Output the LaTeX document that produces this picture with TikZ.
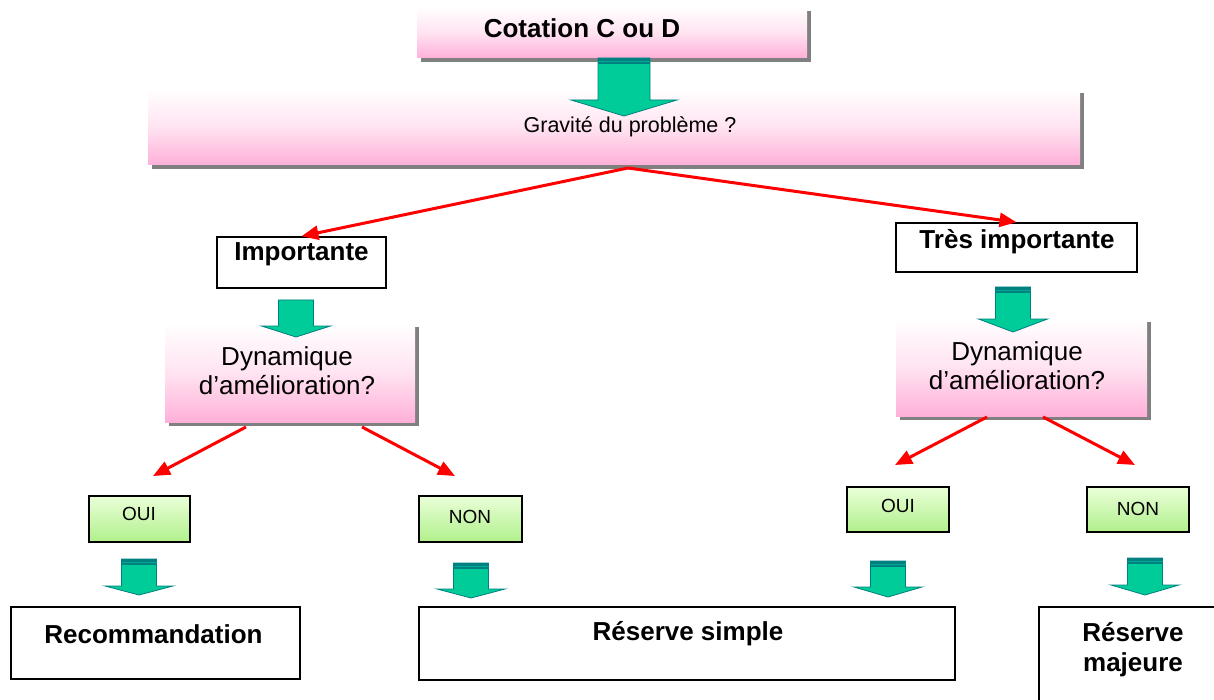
\documentclass[tikz,border=0pt]{standalone}
\usepackage{fontspec}
\setmainfont{Liberation Sans}
\usetikzlibrary{arrows.meta,shadows}
\definecolor{pinkb}{RGB}{255,176,216}
\definecolor{greenT}{RGB}{234,255,216}
\definecolor{greenB}{RGB}{176,240,140}
\definecolor{arrfill}{RGB}{0,204,153}
\definecolor{arrdark}{RGB}{0,128,128}
\definecolor{shgray}{RGB}{128,128,128}
\definecolor{redA}{RGB}{255,0,0}
% block arrow: #1 cx, #2 top, #3 head top, #4 tip, #5 shaft half width, #6 head half width, #7 band (0/1)
\newcommand\garrow[7]{%
  \filldraw[fill=arrfill,draw=arrdark,line width=0.8pt,line join=miter]
    (#1-#5,#2) -- (#1+#5,#2) -- (#1+#5,#3) -- (#1+#6,#3) -- (#1,#4) -- (#1-#6,#3) -- (#1-#5,#3) -- cycle;
  \ifnum#7=1
    \fill[arrdark] (#1-#5,#2) rectangle (#1+#5,#2+6);
    \draw[arrfill!55!arrdark,line width=0.6pt] (#1-#5,#2+3.5) -- (#1+#5,#2+3.5);
  \fi}
\tikzset{
  pinkbox/.style={shade,top color=white,bottom color=pinkb,middle color=pinkb!35!white,draw=none,inner sep=0pt,
    drop shadow={shadow xshift=4pt,shadow yshift=-4pt,fill=shgray,opacity=1}},
  whitebox/.style={draw=black,line width=1.5pt,fill=white,inner sep=0pt},
  greenbox/.style={draw=black,line width=1.3pt,top color=greenT,bottom color=greenB,inner sep=0pt},
  btext/.style={font=\fontsize{26}{30}\selectfont\bfseries,align=center,inner sep=0pt},
  ntext/.style={font=\fontsize{26}{29}\selectfont,align=center,inner sep=0pt},
  gtext/.style={font=\fontsize{21.5}{25}\selectfont,inner sep=0pt},
  stext/.style={font=\fontsize{19}{22}\selectfont,inner sep=0pt},
  redarrow/.style={draw=redA,line width=3pt,-{Triangle[length=17pt,width=14pt]}}
}
\begin{document}
\begin{tikzpicture}[x=1pt,y=-1pt]
\fill[white] (0,0) rectangle (1214,700);
\useasboundingbox (0,0) rectangle (1214,700);

% top boxes
\node[pinkbox,minimum width=390,minimum height=51] (cot) at (612,32.5) {};
\node[btext] (cotT) at (582,28) {Cotation C ou D};
\node[pinkbox,minimum width=932,minimum height=76] (grav) at (614,127) {};
\node[gtext] (gravT) at (630,127) {Gravité du problème ?};
\garrow{624}{58}{100}{116}{26}{53}{1}

% level 2
\node[whitebox,minimum width=169,minimum height=51] (imp) at (301.5,262.5) {};
\node[btext] (impT) at (301.5,254) {Importante};
\node[whitebox,minimum width=241,minimum height=49] (tres) at (1016.5,247.5) {};
\node[btext] (tresT) at (1017,242) {Très importante};

\coordinate (g1) at (628,168);
\draw[redarrow] (g1) -- (imp.north);
\draw[redarrow] (g1) -- (tres.north);

% dynamique boxes
\node[pinkbox,minimum width=250,minimum height=99] (dynL) at (290,372.5) {};
\node[ntext] (dynLT) at (287,371) {Dynamique\\d’amélioration?};
\node[pinkbox,minimum width=251,minimum height=98] (dynR) at (1021.5,367) {};
\node[ntext] (dynRT) at (1017,366) {Dynamique\\d’amélioration?};
\garrow{296}{300}{326}{337}{17.5}{34.5}{0}
\garrow{1013}{287}{319}{332}{17.5}{34.5}{1}

% red arrows to OUI / NON
\coordinate (dl1) at (246,427);
\coordinate (dl1e) at (153,476);
\coordinate (dl2) at (362,427);
\coordinate (dl2e) at (455,476);
\coordinate (dr1) at (987,417);
\coordinate (dr1e) at (895,465);
\coordinate (dr2) at (1043,417);
\coordinate (dr2e) at (1135,465);
\draw[redarrow] (dl1) -- (dl1e);
\draw[redarrow] (dl2) -- (dl2e);
\draw[redarrow] (dr1) -- (dr1e);
\draw[redarrow] (dr2) -- (dr2e);

% OUI / NON
\node[greenbox,minimum width=101,minimum height=46] (ouiL) at (139.5,519) {};
\node[stext] (ouiLT) at (139,514) {OUI};
\node[greenbox,minimum width=103,minimum height=46] (nonL) at (470.5,519) {};
\node[stext] (nonLT) at (470,516.5) {NON};
\node[greenbox,minimum width=102,minimum height=45] (ouiR) at (898,509.5) {};
\node[stext] (ouiRT) at (898,505.5) {OUI};
\node[greenbox,minimum width=102,minimum height=45] (nonR) at (1138,509.5) {};
\node[stext] (nonRT) at (1138,509) {NON};

\garrow{139}{559}{586}{595}{17.5}{34}{1}
\garrow{471}{563}{589}{598}{17.5}{34}{1}
\garrow{888}{561}{587}{597}{17.5}{34}{1}
\garrow{1145}{558}{585}{595}{17.5}{34}{1}

% results
\node[whitebox,minimum width=289,minimum height=72] (rec) at (155.5,643) {};
\node[btext] (recT) at (153.5,634) {Recommandation};
\node[whitebox,minimum width=536,minimum height=73] (rsimp) at (687,643.5) {};
\node[btext] (rsimpT) at (688,634) {Réserve simple};
\node[whitebox,minimum width=200,minimum height=113] (rmaj) at (1139,663.5) {};
\node[btext] (rmajT) at (1133,650) {Réserve\\majeure};
\end{tikzpicture}
\end{document}
